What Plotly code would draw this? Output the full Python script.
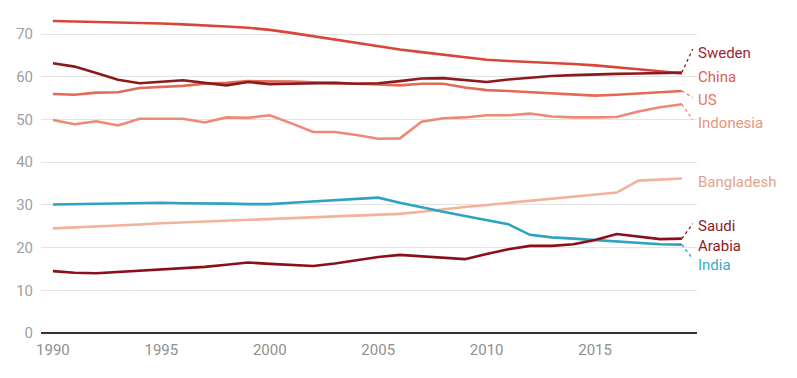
import plotly.graph_objects as go

years = list(range(1990, 2020))

china = [73.1, 73.0, 72.9, 72.8, 72.7, 72.5, 72.3, 72.1, 71.8, 71.5, 71.0,
         70.3, 69.5, 68.7, 67.9, 67.1, 66.4, 65.8, 65.2, 64.6, 64.0,
         63.7, 63.5, 63.3, 63.0, 62.7, 62.3, 61.8, 61.3, 60.8]
sweden = [63.2, 62.4, 60.9, 59.3, 58.5, 58.9, 59.2, 58.6, 58.0, 58.8, 58.3,
          58.4, 58.5, 58.6, 58.4, 58.5, 59.0, 59.6, 59.7, 59.3, 58.8,
          59.4, 59.8, 60.2, 60.4, 60.6, 60.7, 60.8, 60.9, 61.0]
us = [56.0, 55.8, 56.3, 56.4, 57.4, 57.7, 57.9, 58.4, 58.6, 59.0, 59.0,
      58.9, 58.7, 58.6, 58.4, 58.2, 58.0, 58.4, 58.4, 57.5, 56.9,
      56.7, 56.4, 56.1, 55.8, 55.6, 55.8, 56.1, 56.3, 56.7]
indonesia = [49.9, 48.9, 49.6, 48.6, 50.2, 50.2, 50.2, 49.3, 50.5, 50.4, 51.0,
             49.1, 47.1, 47.1, 46.4, 45.5, 45.6, 49.5, 50.3, 50.5, 51.0,
             51.0, 51.4, 50.7, 50.5, 50.5, 50.6, 51.9, 52.9, 53.6]
bangladesh = [24.5, 24.7, 24.9, 25.2, 25.4, 25.7, 25.9, 26.2, 26.4, 26.6, 26.8,
              27.0, 27.2, 27.4, 27.6, 27.7, 27.9, 28.4, 29.0, 29.5, 30.0,
              30.5, 31.0, 31.4, 31.9, 32.4, 32.9, 35.7, 36.0, 36.2]
saudi = [14.5, 14.1, 14.0, 14.3, 14.6, 14.8, 15.1, 15.5, 16.0, 16.5, 16.2,
         15.9, 15.7, 16.3, 17.1, 17.8, 18.3, 18.0, 17.7, 17.3, 18.5,
         19.6, 20.4, 20.4, 20.8, 21.8, 23.2, 22.6, 22.0, 22.1]
india = [30.1, 30.2, 30.3, 30.4, 30.5, 30.5, 30.4, 30.4, 30.3, 30.2, 30.2,
         30.5, 30.8, 31.1, 31.4, 31.7, 30.5, 29.4, 28.4, 27.4, 26.5,
         25.5, 23.0, 22.4, 22.1, 21.8, 21.4, 21.1, 20.8, 20.7]

labels = ["Sweden", "China", "US", "Indonesia", "Bangladesh", "Saudi<br>Arabia", "India"]

series = {
    "Bangladesh": bangladesh,
    "Indonesia": indonesia,
    "US": us,
    "China": china,
    "Sweden": sweden,
    "India": india,
    "Saudi<br>Arabia": saudi,
}

line_colors = {
    "China": "#d8463b",
    "Sweden": "#8c1a1c",
    "US": "#e36a55",
    "Indonesia": "#ee8a74",
    "Bangladesh": "#f5b29a",
    "Saudi<br>Arabia": "#8a0f18",
    "India": "#2ea2c1",
}
label_colors = {
    "Sweden": "#9b2632",
    "China": "#dc5e50",
    "US": "#e07a62",
    "Indonesia": "#e8937c",
    "Bangladesh": "#e2a38d",
    "Saudi<br>Arabia": "#8e1b25",
    "India": "#3ea9c7",
}
# label vertical positions (layout)
label_y = {
    "Sweden": 65.6,
    "China": 60.0,
    "US": 54.6,
    "Indonesia": 49.3,
    "Bangladesh": 35.4,
    "Saudi<br>Arabia": 22.8,
    "India": 16.0,
}
leader = {"Sweden": 66.5, "US": 55.2, "Indonesia": 50.0, "Saudi<br>Arabia": 25.6, "India": 17.4}

fig = go.Figure()
for name, vals in series.items():
    fig.add_trace(go.Scatter(
        x=years, y=vals, mode="lines", name=name.replace("<br>", " "),
        line=dict(color=line_colors[name], width=2.6),
        hoverinfo="x+y+name",
    ))

for name, ty in leader.items():
    vals = series[name]
    fig.add_trace(go.Scatter(
        x=[years[-1], years[-1] + 0.5], y=[vals[-1], ty], mode="lines",
        line=dict(color=line_colors[name], width=1.3, dash="dot"),
        hoverinfo="skip", showlegend=False,
    ))

for name in labels:
    fig.add_annotation(
        x=1, xref="paper", y=label_y[name], yref="y", xanchor="left",
        yanchor="middle", text=name, showarrow=False, align="left",
        font=dict(family="Roboto", size=15, color=label_colors[name]),
        xshift=-1,
    )

fig.update_layout(
    width=797, height=378,
    margin=dict(l=41, r=100, t=6, b=45),
    paper_bgcolor="white", plot_bgcolor="white",
    showlegend=False,
    font=dict(family="Roboto", size=15, color="#999999"),
    xaxis=dict(
        range=[1989.45, 2019.7], tickvals=[1990, 1995, 2000, 2005, 2010, 2015],
        showgrid=False, zeroline=False, showline=False, ticks="",
        ticklabelstandoff=6, tickfont=dict(color="#8f8f8f", size=15),
    ),
    yaxis=dict(
        range=[0, 76.6], tickvals=[0, 10, 20, 30, 40, 50, 60, 70],
        showgrid=True, gridcolor="#e4e4e4", gridwidth=1,
        zeroline=True, zerolinecolor="#333333", zerolinewidth=1.5,
        showline=False, ticks="", ticklabelstandoff=7,
        tickfont=dict(color="#a0a0a0", size=15),
    ),
)

fig.write_html(
    "out.html",
    config={"displayModeBar": False},
    post_script="document.body.style.margin='0';document.body.style.overflow='hidden';",
)
